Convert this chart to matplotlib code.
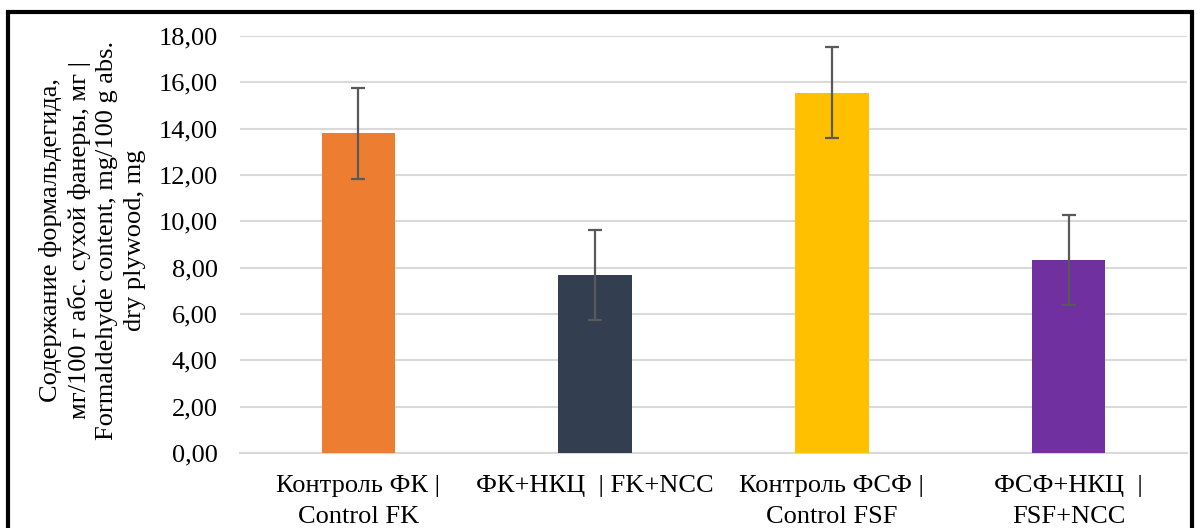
import matplotlib
matplotlib.use("Agg")
import matplotlib.pyplot as plt
from matplotlib.patches import Rectangle
import numpy as np

# data
categories = ["Контроль ФК |\nControl FK",
              "ФК+НКЦ  | FK+NCC",
              "Контроль ФСФ |\nControl FSF",
              "ФСФ+НКЦ  |\nFSF+NCC"]
values = [13.80, 7.68, 15.55, 8.33]
errors = [1.96, 1.95, 1.95, 1.96]
colors = ["#ED7D31", "#333F50", "#FFC000", "#7030A0"]
yticks = [0, 2, 4, 6, 8, 10, 12, 14, 16, 18]
ylabel = ("Содержание формальдегида,\nмг/100 г абс. сухой фанеры, мг |\n"
          "Formaldehyde content, mg/100 g abs.\ndry plywood, mg")

plt.rcParams['font.family'] = ['Liberation Serif', 'DejaVu Serif']
fsize = 19

fig = plt.figure(figsize=(11.97, 5.28), dpi=100)
ax = fig.add_axes([0.2005, 0.142, 0.7911, 0.790])

x = np.arange(len(categories))
ax.bar(x, values, width=0.31, color=colors, zorder=3)
ax.errorbar(x, values, yerr=errors, fmt="none", ecolor="#595959",
            elinewidth=1.6, capsize=5, capthick=1.6, zorder=4)

ax.set_xlim(-0.5, len(categories) - 0.5)
ax.set_ylim(0, 18)
ax.set_yticks(yticks)
ax.set_yticklabels([f"{v:.2f}".replace(".", ",") for v in yticks])
ax.set_xticks(x)
ax.set_xticklabels(categories, linespacing=1.58)

ax.grid(axis="y", color="#D9D9D9", linewidth=1.5, zorder=0)
ax.set_axisbelow(True)
for side in ["top", "right", "left"]:
    ax.spines[side].set_visible(False)
ax.spines["bottom"].set_color("#D9D9D9")
ax.spines["bottom"].set_linewidth(1.5)
ax.tick_params(axis="both", length=0, labelsize=fsize, colors="#000000")
ax.tick_params(axis="y", pad=16)
ax.tick_params(axis="x", pad=15.5)

fig.text(0.077, 0.545, ylabel, rotation=90, ha="center", va="center",
         multialignment="center", fontsize=fsize, linespacing=1.32)

# black frame around the chart (bottom edge cut off in the reference)
frame = Rectangle((0.0065, -0.05), 0.9895, 0.05 + 0.977, transform=fig.transFigure,
                  fill=False, edgecolor="black", linewidth=3, clip_on=False)
fig.add_artist(frame)

fig.savefig("out.png", dpi=100)
